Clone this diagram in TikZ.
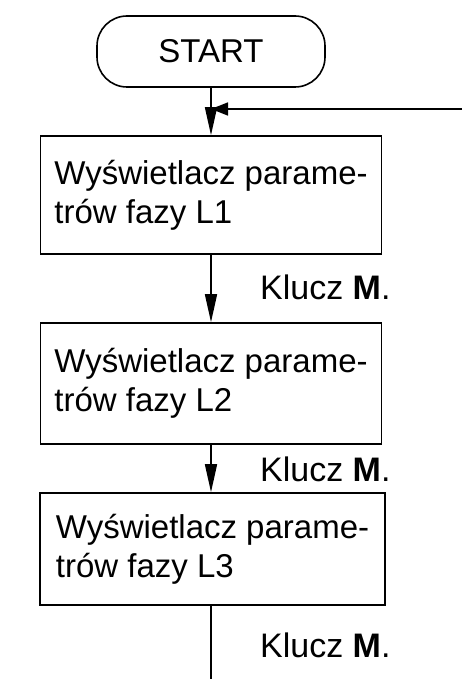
\documentclass[tikz,border=0pt]{standalone}
\usepackage{fontspec}
\setmainfont{Liberation Sans}
\usetikzlibrary{positioning,arrows.meta}

\begin{document}
\begin{tikzpicture}[x=1pt, y=-1pt, >={Triangle[length=28pt,width=12pt]}, line width=1.6pt,
    every node/.style={font=\fontsize{33}{39}\selectfont},
    phase/.style={draw, minimum width=341pt, minimum height=118pt, align=left, inner sep=0pt},
    key/.style={anchor=base west, font=\fontsize{34}{40}\selectfont}]
  \useasboundingbox (0,0) rectangle (462,679);
  \node[draw, rounded corners=30pt, minimum width=228pt, minimum height=71pt] (start) at (211,51.5) {START};
  \node[phase] (faza1) at (211,195) {Wyświetlacz parame-\\trów fazy L1};
  \node[phase, minimum height=121pt] (faza2) at (211,383.5) {Wyświetlacz parame-\\trów fazy L2};
  \node[phase, minimum width=345pt, minimum height=112pt] (faza3) at (212.5,549) {Wyświetlacz parame-\\trów fazy L3};
  \node[key] (klucz1) at (256,299) {Klucz \textbf{M}.};
  \node[key] (klucz2) at (256,481) {Klucz \textbf{M}.};
  \node[key] (klucz3) at (256,657) {Klucz \textbf{M}.};
  \coordinate (merge) at (211,109);
  \coordinate (loop) at (462,109);
  \coordinate (exit) at (211,679);
  \draw[->] (start) -- (faza1);
  \draw[-{Triangle[length=17pt,width=13pt]}] (loop) -- (merge);
  \draw[->] (faza1) -- (faza2);
  \draw[->] (faza2.south) -- (faza2.south |- faza3.north);
  \draw (faza3.south -| exit) -- (exit);
\end{tikzpicture}
\end{document}
